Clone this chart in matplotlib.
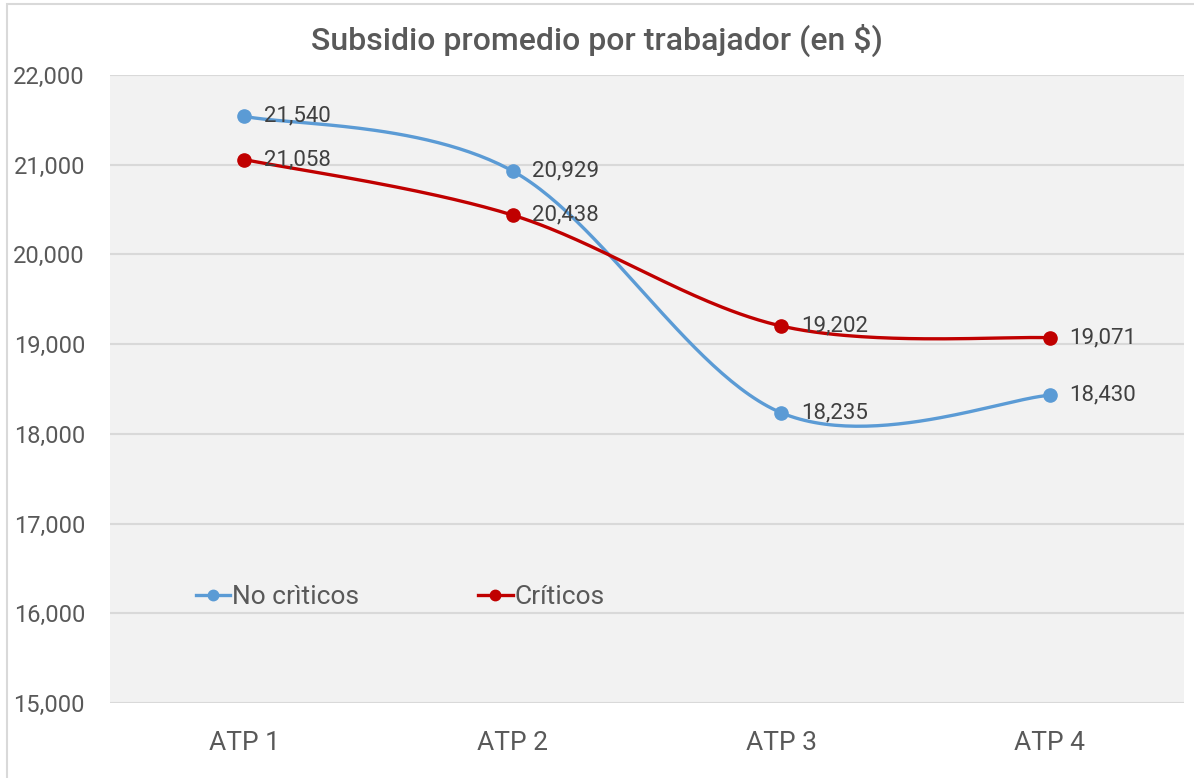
import matplotlib
matplotlib.use("Agg")
import matplotlib.pyplot as plt
from matplotlib.patches import Rectangle
from matplotlib.ticker import FuncFormatter
import numpy as np

plt.rcParams['font.family'] = ['Roboto', 'DejaVu Sans']

categories = ["ATP 1", "ATP 2", "ATP 3", "ATP 4"]
no_criticos = [21540, 20929, 18235, 18430]
criticos = [21058, 20438, 19202, 19071]
title = "Subsidio promedio por trabajador (en $)"

BLUE = "#5B9BD5"
RED = "#C00000"


def smooth(xs, ys, n=60):
    # Excel-like smoothed line: cubic bezier through the points
    pts = np.column_stack([xs, ys]).astype(float)
    ext = np.vstack([pts[0], pts, pts[-1]])
    out = []
    for i in range(len(pts) - 1):
        p0, p1, p2, p3 = ext[i], ext[i + 1], ext[i + 2], ext[i + 3]
        c1 = p1 + (p2 - p0) / 6.0
        c2 = p2 - (p3 - p1) / 6.0
        t = np.linspace(0, 1, n)[:, None]
        seg = ((1 - t) ** 3) * p1 + 3 * ((1 - t) ** 2) * t * c1 + 3 * (1 - t) * t ** 2 * c2 + t ** 3 * p2
        out.append(seg if i == 0 else seg[1:])
    out = np.vstack(out)
    return out[:, 0], out[:, 1]


fig = plt.figure(figsize=(11.94, 7.78), dpi=100)
fig.patch.set_facecolor("white")
fig.patches.append(Rectangle((7 / 1194, -0.1), 1.2, (778 - 4) / 778 + 0.1,
                             transform=fig.transFigure, fill=False,
                             edgecolor="#D9D9D9", linewidth=1.5))

ax = fig.add_axes([110 / 1194, 1 - 703 / 778, 1074 / 1194, 628 / 778])
ax.set_facecolor("#F2F2F2")

x = np.arange(len(categories))
for vals, color, name in [(no_criticos, BLUE, "No crìticos"), (criticos, RED, "Críticos")]:
    sx, sy = smooth(x, vals)
    ax.plot(sx, sy, color=color, linewidth=2.4, solid_capstyle="round", zorder=3)
    ax.plot(x, vals, linestyle="none", marker="o", markersize=9.5, color=color, zorder=4)
    ax.plot([], [], color=color, linewidth=2.4, marker="o", markersize=7.5, label=name)
    for xi, v in zip(x, vals):
        ax.annotate(f"{v:,}", (xi, v), xytext=(14, 0), textcoords="offset points",
                    ha="left", va="center", fontsize=16, color="#404040", zorder=5)

ax.set_xlim(-0.5, len(categories) - 0.5)
ax.set_ylim(15000, 22000)
ax.set_yticks(np.arange(15000, 22001, 1000))
ax.yaxis.set_major_formatter(FuncFormatter(lambda v, p: f"{int(v):,}"))
ax.set_xticks(x)
ax.set_xticklabels(categories)
ax.grid(axis="y", color="#D9D9D9", linewidth=1.5)
ax.set_axisbelow(True)
for s in ax.spines.values():
    s.set_visible(False)
ax.tick_params(axis="x", length=0, labelsize=19, colors="#595959", pad=20)
ax.tick_params(axis="y", length=0, labelsize=17, colors="#595959", pad=18)

leg = ax.legend(loc="center left", bbox_to_anchor=(0.058, 0.169), ncol=2, frameon=False,
                fontsize=19, handlelength=1.3, handletextpad=0.08, columnspacing=4.5,
                labelcolor="#595959")

fig.text(597 / 1194, 1 - 40 / 778, title, ha="center", va="center",
         fontsize=23, fontweight="medium", color="#595959")

fig.savefig("out.png", dpi=100)
